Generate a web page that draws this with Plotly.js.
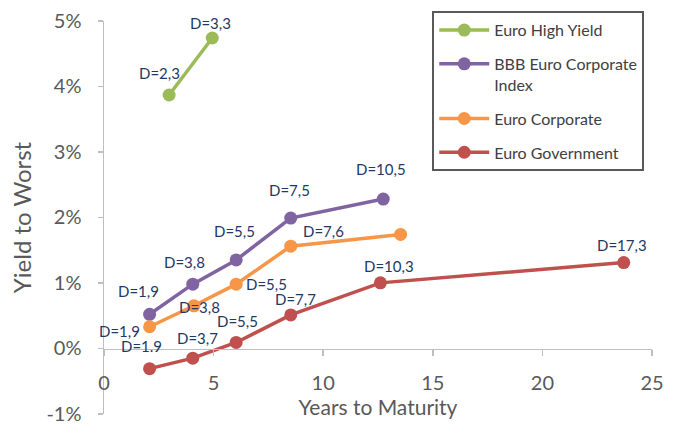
<!DOCTYPE html>
<html>
<head>
<meta charset="utf-8">
<script src="https://cdn.plot.ly/plotly-3.0.1.min.js"></script>
<style>html,body{margin:0;padding:0;background:#fff;}#chart{width:677px;height:425px;}</style>
</head>
<body>
<div id="chart"></div>
<script>
// ---- data ----
var seriesNames = ["Euro High Yield", "BBB Euro Corporate<br>Index", "Euro Corporate", "Euro Government"];

var hyYears = [2.97, 4.94];
var hyYield = [3.87, 4.74];
var hyLabels = ["D=2,3", "D=3,3"];

var bbbYears = [2.08, 4.05, 6.03, 8.52, 12.74];
var bbbYield = [0.52, 0.98, 1.35, 1.99, 2.28];
var bbbLabels = ["D=1,9", "D=3,8", "D=5,5", "D=7,5", "D=10,5"];

var corpYears = [2.08, 4.10, 6.03, 8.52, 13.53];
var corpYield = [0.33, 0.65, 0.98, 1.56, 1.74];
var corpLabels = ["D=1,9", "D=3,8", "D=5,5", "D=7,6", ""];

var govYears = [2.08, 4.05, 6.03, 8.52, 12.61, 23.71];
var govYield = [-0.31, -0.15, 0.09, 0.51, 1.00, 1.31];
var govLabels = ["D=1.9", "D=3,7", "D=5,5", "D=7,7", "D=10,3", "D=17,3"];

var yTickVals = [-1, 0, 1, 2, 3, 4, 5];
var yTickText = ["-1%", "0%", "1%", "2%", "3%", "4%", "5%"];
var xTickVals = [0, 5, 10, 15, 20, 25];

// ---- styling (label offsets in px: [dx, dy], dy positive = down) ----
var colors = ["#9BBB59", "#8064A2", "#F79646", "#C0504D"];
var hyOff = [[-10, -22], [-2, -15]];
var bbbOff = [[-11, -23], [-8, -22], [-2, -29], [-1, -28], [-2, -30]];
var corpOff = [[-30, 4], [6, 1], [30, 0], [33, -15], [0, 0]];
var govOff = [[-8, -23], [5, -20], [1, -21], [5, -16], [9, -17], [-2, -18]];

var FONT = "Lato, 'Open Sans', sans-serif";

function mkTrace(name, xs, ys, color, grp) {
  return {
    type: "scatter", mode: "lines+markers", name: name,
    x: xs, y: ys, legendgroup: grp,
    line: {color: color, width: 3.5},
    marker: {color: color, size: 13},
    cliponaxis: false, hoverinfo: "skip"
  };
}

var traces = [
  mkTrace(seriesNames[0], hyYears, hyYield, colors[0], "g1"),
  mkTrace(seriesNames[1], bbbYears, bbbYield, colors[1], "g2"),
  mkTrace(seriesNames[2], corpYears, corpYield, colors[2], "g3"),
  mkTrace(seriesNames[3], govYears, govYield, colors[3], "g4")
];

var annotations = [];
function addLabels(xs, ys, labels, offs) {
  for (var i = 0; i < xs.length; i++) {
    if (!labels[i]) continue;
    annotations.push({
      x: xs[i], y: ys[i], xref: "x", yref: "y", text: labels[i],
      showarrow: false, xanchor: "center", yanchor: "middle",
      xshift: offs[i][0], yshift: -offs[i][1],
      font: {family: FONT, size: 15, color: "#1F3864"}
    });
  }
}
addLabels(hyYears, hyYield, hyLabels, hyOff);
addLabels(bbbYears, bbbYield, bbbLabels, bbbOff);
addLabels(corpYears, corpYield, corpLabels, corpOff);
addLabels(govYears, govYield, govLabels, govOff);

var layout = {
  width: 677, height: 425,
  margin: {l: 104, r: 25, t: 17, b: 11, pad: 0},
  paper_bgcolor: "#ffffff", plot_bgcolor: "#ffffff",
  font: {family: FONT, color: "#595959"},
  showlegend: true,
  legend: {
    x: 0.599, y: 1.025, xanchor: "left", yanchor: "top",
    bgcolor: "#ffffff", bordercolor: "#595959", borderwidth: 2,
    font: {family: FONT, size: 16, color: "#404040"},
    valign: "top", itemwidth: 50, tracegroupgap: 10,
    itemclick: false, itemdoubleclick: false
  },
  xaxis: {
    range: [0, 25], tickvals: xTickVals,
    anchor: "free", position: 1 / 6,
    showline: true, linecolor: "#BFBFBF", linewidth: 1.5,
    ticks: "outside", ticklen: 6, tickcolor: "#BFBFBF", tickwidth: 1.5,
    showgrid: false, zeroline: false,
    tickfont: {family: FONT, size: 20, color: "#595959"},
    ticklabelstandoff: 10,
    title: {text: "Years to Maturity", font: {family: FONT, size: 21, color: "#595959"}, standoff: 3},
    automargin: false, fixedrange: true
  },
  yaxis: {
    range: [-1.003, 5.0], tickvals: yTickVals, ticktext: yTickText,
    showline: true, linecolor: "#BFBFBF", linewidth: 1.5,
    ticks: "outside", ticklen: 5, tickcolor: "#BFBFBF", tickwidth: 1.5,
    showgrid: false, zeroline: false,
    tickfont: {family: FONT, size: 20, color: "#595959"},
    ticklabelstandoff: 12, ticklabeloverflow: "allow",
    title: {text: "Yield to Worst", font: {family: FONT, size: 24, color: "#595959"}, standoff: 8},
    automargin: false, fixedrange: true
  },
  annotations: annotations
};

Plotly.newPlot("chart", traces, layout, {displayModeBar: false, staticPlot: true});
</script>
</body>
</html>
